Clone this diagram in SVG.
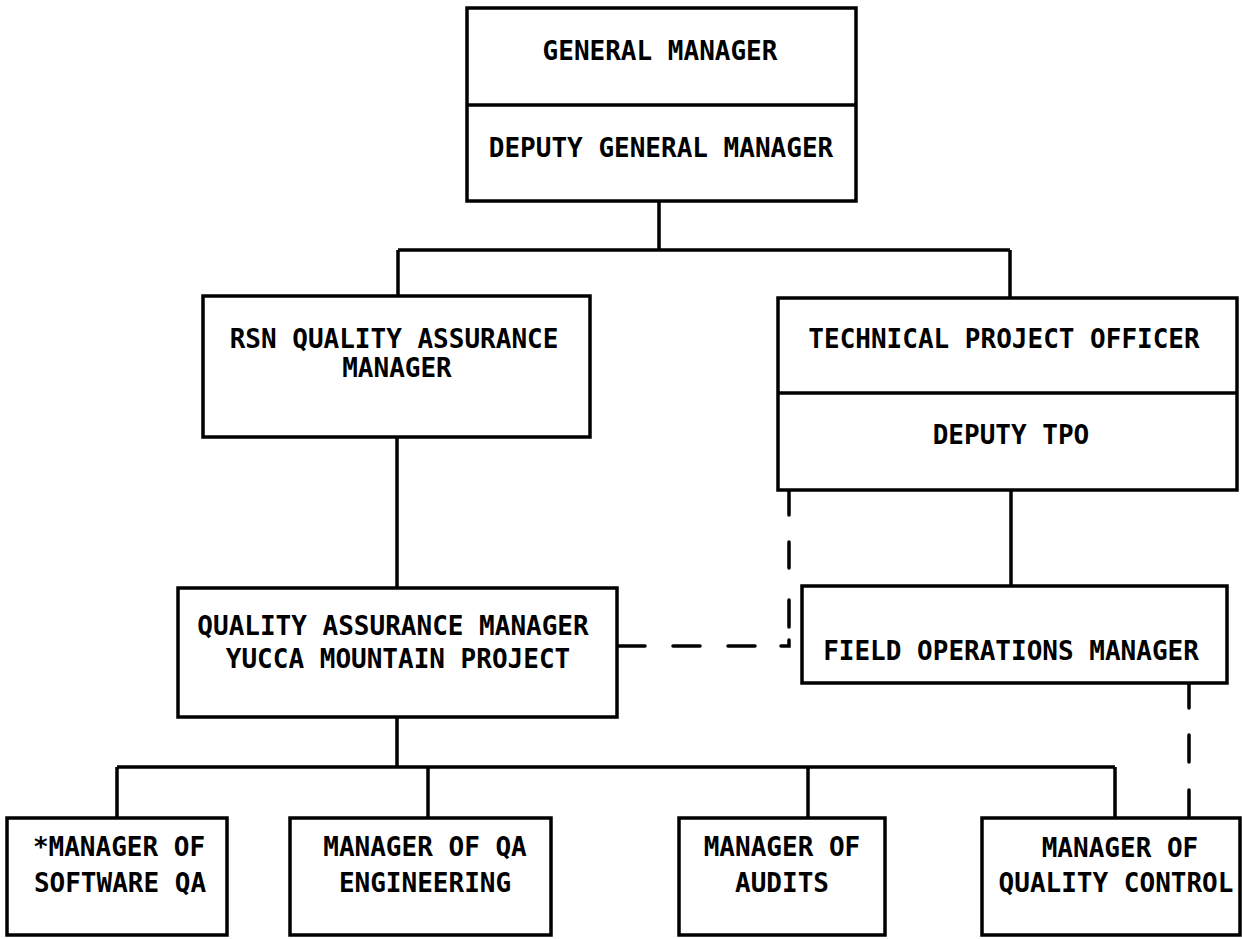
<svg xmlns="http://www.w3.org/2000/svg" width="1242" height="939" viewBox="0 0 1242 939">
<style>
.box{fill:#fff;stroke:#000;stroke-width:3.5}
.ln{fill:none;stroke:#000;stroke-width:3.5}
.dash{fill:none;stroke:#000;stroke-width:3.5;stroke-linecap:round}
text{font-family:"DejaVu Sans Mono","Liberation Mono",monospace;font-weight:bold;font-size:26px;fill:#000;text-anchor:middle}
</style>
<rect width="1242" height="939" fill="#fff"/>
<g id="connectors">
<path class="ln" d="M659 201V250M398 250H1010M398 250V296M1010 250V298"/>
<path class="ln" d="M397 437V588"/>
<path class="ln" d="M1011 490V586"/>
<path class="ln" d="M397 717V767M117 767H1115M117 767V818M428 767V818M808 767V818M1115 767V818"/>
<path class="dash" d="M789 490V515M789 542V568M789 600V627M789 640V646H781M617 646H645M673 646H700M728 646H755"/>
<path class="dash" d="M1189 683V708M1189 735V762M1189 790V818"/>
</g>
<g id="gm">
<rect class="box" x="467" y="8" width="389" height="193"/>
<line class="ln" x1="467" y1="105" x2="856" y2="105"/>
<text x="660" y="60">GENERAL MANAGER</text>
<text x="661" y="157">DEPUTY GENERAL MANAGER</text>
</g>
<g id="rsn">
<rect class="box" x="203" y="296" width="387" height="141"/>
<text x="394" y="348">RSN QUALITY ASSURANCE</text>
<text x="397" y="377">MANAGER</text>
</g>
<g id="tpo">
<rect class="box" x="778" y="298" width="459" height="192"/>
<line class="ln" x1="778" y1="393" x2="1237" y2="393"/>
<text x="1004" y="348">TECHNICAL PROJECT OFFICER</text>
<text x="1011" y="444">DEPUTY TPO</text>
</g>
<g id="qa">
<rect class="box" x="178" y="588" width="439" height="129"/>
<text x="393" y="635">QUALITY ASSURANCE MANAGER</text>
<text x="398" y="668">YUCCA MOUNTAIN PROJECT</text>
</g>
<g id="fom">
<rect class="box" x="802" y="586" width="425" height="97"/>
<text x="1011" y="660">FIELD OPERATIONS MANAGER</text>
</g>
<g id="sw">
<rect class="box" x="7" y="818" width="220" height="117"/>
<text x="119" y="856">*MANAGER OF</text>
<text x="120" y="892">SOFTWARE QA</text>
</g>
<g id="eng">
<rect class="box" x="290" y="818" width="261" height="117"/>
<text x="425" y="856">MANAGER OF QA</text>
<text x="425" y="892">ENGINEERING</text>
</g>
<g id="aud">
<rect class="box" x="679" y="818" width="206" height="117"/>
<text x="782" y="856">MANAGER OF</text>
<text x="782" y="892">AUDITS</text>
</g>
<g id="qc">
<rect class="box" x="982" y="818" width="258" height="117"/>
<text x="1120" y="857">MANAGER OF</text>
<text x="1116" y="892">QUALITY CONTROL</text>
</g>
</svg>
